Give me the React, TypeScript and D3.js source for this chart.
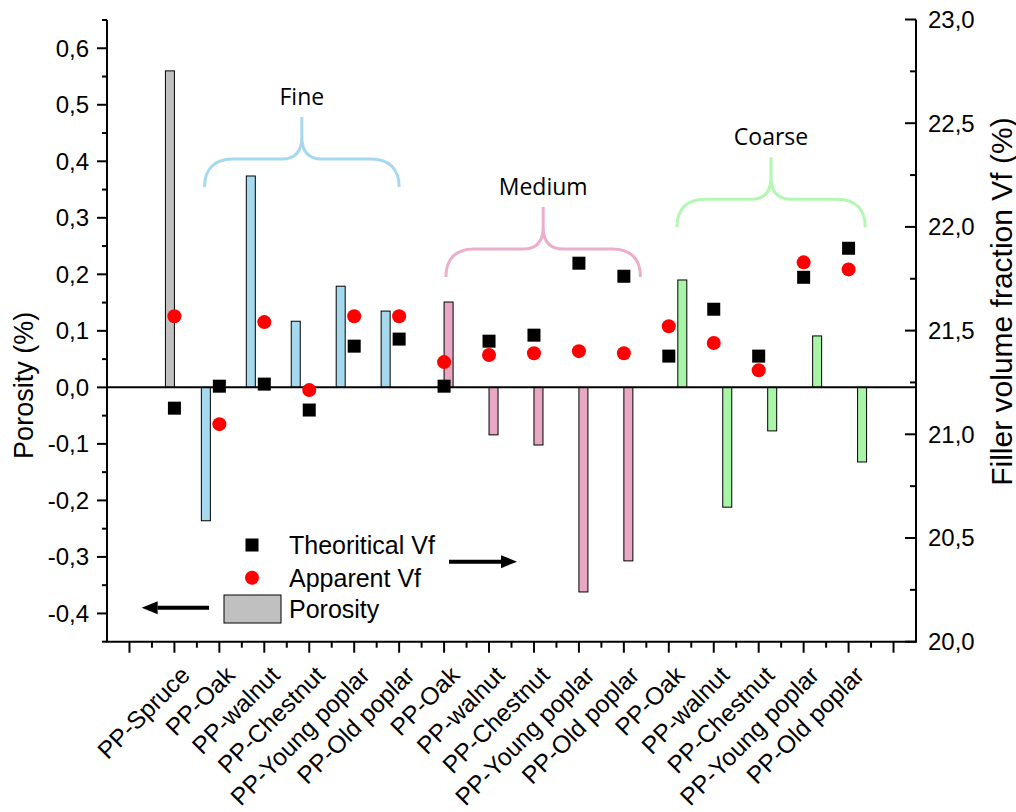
import React from "react";
import * as d3 from "d3";

const categories = [
  "PP-Spruce", "PP-Oak", "PP-walnut", "PP-Chestnut", "PP-Young poplar", "PP-Old poplar",
  "PP-Oak", "PP-walnut", "PP-Chestnut", "PP-Young poplar", "PP-Old poplar",
  "PP-Oak", "PP-walnut", "PP-Chestnut", "PP-Young poplar", "PP-Old poplar",
];
const groups = [
  "Reference", "Fine", "Fine", "Fine", "Fine", "Fine",
  "Medium", "Medium", "Medium", "Medium", "Medium",
  "Coarse", "Coarse", "Coarse", "Coarse", "Coarse",
];
const porosity = [0.56, -0.236, 0.374, 0.117, 0.179, 0.135, 0.151, -0.084, -0.102, -0.362, -0.307, 0.19, -0.212, -0.077, 0.091, -0.132];
const theoreticalVf = [21.126, 21.232, 21.242, 21.117, 21.425, 21.459, 21.232, 21.449, 21.478, 21.825, 21.762, 21.377, 21.603, 21.377, 21.757, 21.897];
const apparentVf = [21.569, 21.049, 21.541, 21.213, 21.569, 21.569, 21.348, 21.382, 21.391, 21.401, 21.391, 21.521, 21.44, 21.309, 21.829, 21.795];

const leftTicks = [-0.4, -0.3, -0.2, -0.1, 0, 0.1, 0.2, 0.3, 0.4, 0.5, 0.6];
const rightTicks = [20, 20.5, 21, 21.5, 22, 22.5, 23];

const braceLabels = ["Fine", "Medium", "Coarse"];
const braceFrom = [1.67, 7.04, 12.18];
const braceTo = [6.0, 11.37, 16.37];
const braceLevel = [0.404, 0.245, 0.333];

const groupOrder = ["Fine", "Reference", "Medium", "Coarse"];
const groupFill: Record<string, string> = {
  Reference: "#c0c0c0",
  Fine: "#a6d8ee",
  Medium: "#e8a8c4",
  Coarse: "#a8f5a8",
};
const braceColor = ["#a6d8ef", "#ecaecb", "#b2f7b2"];

const W = 1016;
const H = 812;
const FONT = "Arial, 'Liberation Sans', sans-serif";

const fmt = (v: number, d: number) => v.toFixed(d).replace(".", ",").replace(/^-0,0$/, "0,0");

export default function App() {
  const x = d3.scaleLinear().domain([-0.5, 17.5]).range([107, 916]);
  const yL = d3.scaleLinear().domain([-0.45, 0.65]).range([641.7, 20]);
  const yR = d3.scaleLinear().domain([20, 23]).range([641.7, 19.5]);
  const sub = d3.scaleBand().domain(groupOrder).range([-18, 18]).padding(0);
  const xOf = (i: number) => x(i + 1);

  const xMajor = d3.range(0, 18);
  const xMinor = d3.range(0.5, 17.5, 1);
  const leftMinor = d3.range(-0.45, 0.651, 0.1).map((v) => Math.round(v * 100) / 100);
  const rightMinor = d3.range(20.25, 23, 0.5);

  const axisColor = "#000";

  const bracePath = (x0: number, x1: number, yh: number) => {
    const xm = (x0 + x1) / 2;
    return (
      `M${x0},${yh + 28} C${x0},${yh + 10} ${x0 + 10},${yh} ${x0 + 28},${yh} L${xm - 20},${yh} ` +
      `C${xm - 6},${yh} ${xm},${yh - 8} ${xm},${yh - 22} L${xm},${yh - 42} ` +
      `M${x1},${yh + 28} C${x1},${yh + 10} ${x1 - 10},${yh} ${x1 - 28},${yh} L${xm + 20},${yh} ` +
      `C${xm + 6},${yh} ${xm},${yh - 8} ${xm},${yh - 22}`
    );
  };

  const arrow = (xTail: number, xTip: number, yy: number) => {
    const dir = xTip > xTail ? 1 : -1;
    const headL = 16;
    return (
      <g>
        <line x1={xTail} y1={yy} x2={xTip - dir * headL} y2={yy} stroke="#000" strokeWidth={4} />
        <path d={`M${xTip},${yy} L${xTip - dir * headL},${yy - 6.5} L${xTip - dir * headL},${yy + 6.5} Z`} fill="#000" />
      </g>
    );
  };

  return (
    <svg width={W} height={H} style={{ position: "absolute", left: 0, top: 0, background: "#fff" }} fontFamily={FONT}>
      <rect x={0} y={0} width={W} height={H} fill="#fff" />

      {/* bars */}
      {porosity.map((v, i) => {
        const cx = xOf(i) + (sub(groups[i]) as number);
        const y0 = yL(0);
        const y1 = yL(v);
        return (
          <rect
            key={"b" + i}
            x={cx}
            y={Math.min(y0, y1)}
            width={sub.bandwidth()}
            height={Math.abs(y1 - y0)}
            fill={groupFill[groups[i]]}
            stroke="#000"
            strokeWidth={1}
          />
        );
      })}

      {/* zero line */}
      <line x1={x(-0.5)} x2={x(17.5)} y1={yL(0)} y2={yL(0)} stroke="#000" strokeWidth={2} />

      {/* markers */}
      {theoreticalVf.map((v, i) => (
        <rect key={"t" + i} x={xOf(i) - 6.5} y={yR(v) - 6.5} width={13} height={13} fill="#000" />
      ))}
      {apparentVf.map((v, i) => (
        <circle key={"a" + i} cx={xOf(i)} cy={yR(v)} r={7} fill="#ff0000" />
      ))}

      {/* braces */}
      {braceLabels.map((lab, k) => {
        const x0 = xOf(braceFrom[k] - 1);
        const x1 = xOf(braceTo[k] - 1);
        const yh = yL(braceLevel[k]);
        return (
          <g key={"br" + k}>
            <path d={bracePath(x0, x1, yh)} fill="none" stroke={braceColor[k]} strokeWidth={3} />
            <text
              x={(x0 + x1) / 2}
              y={yh - 54}
              textAnchor="middle"
              fontFamily="'Open Sans', 'Noto Sans', sans-serif"
              fontSize={23}
              fill="#000"
            >
              {lab}
            </text>
          </g>
        );
      })}

      {/* left axis */}
      <line x1={x(-0.5)} x2={x(-0.5)} y1={yL(0.65)} y2={yL(-0.45)} stroke={axisColor} strokeWidth={2} />
      {leftTicks.map((t) => (
        <g key={"lt" + t}>
          <line x1={x(-0.5) - 10} x2={x(-0.5)} y1={yL(t)} y2={yL(t)} stroke={axisColor} strokeWidth={2} />
          <text x={x(-0.5) - 18} y={yL(t)} dy="0.35em" textAnchor="end" fontSize={24}>
            {fmt(t, 1)}
          </text>
        </g>
      ))}
      {leftMinor.map((t) => (
        <line key={"lm" + t} x1={x(-0.5) - 5} x2={x(-0.5)} y1={yL(t)} y2={yL(t)} stroke={axisColor} strokeWidth={2} />
      ))}
      <text
        transform={`translate(24,${yL(0) - 2}) rotate(-90)`}
        textAnchor="middle"
        dy="0.35em"
        fontSize={27}
      >
        Porosity (%)
      </text>

      {/* right axis */}
      <line x1={x(17.5)} x2={x(17.5)} y1={yR(23)} y2={yR(20)} stroke={axisColor} strokeWidth={2} />
      {rightTicks.map((t) => (
        <g key={"rt" + t}>
          <line x1={x(17.5) - 11} x2={x(17.5)} y1={yR(t)} y2={yR(t)} stroke={axisColor} strokeWidth={2} />
          <text x={x(17.5) + 12} y={yR(t)} dy="0.35em" textAnchor="start" fontSize={24}>
            {fmt(t, 1)}
          </text>
        </g>
      ))}
      {rightMinor.map((t) => (
        <line key={"rm" + t} x1={x(17.5) - 6} x2={x(17.5)} y1={yR(t)} y2={yR(t)} stroke={axisColor} strokeWidth={2} />
      ))}
      <text
        transform={`translate(1001,${yR(21.64)}) rotate(-90)`}
        textAnchor="middle"
        dy="0.35em"
        fontSize={30}
      >
        Filler volume fraction Vf (%)
      </text>

      {/* bottom axis */}
      <line x1={x(-0.5) - 1} x2={x(17.5) + 1} y1={yL(-0.45)} y2={yL(-0.45)} stroke={axisColor} strokeWidth={2} />
      {xMajor.map((t) => (
        <line key={"xm" + t} x1={x(t)} x2={x(t)} y1={yL(-0.45)} y2={yL(-0.45) + 11} stroke={axisColor} strokeWidth={2} />
      ))}
      {xMinor.map((t) => (
        <line key={"xn" + t} x1={x(t)} x2={x(t)} y1={yL(-0.45)} y2={yL(-0.45) + 6} stroke={axisColor} strokeWidth={2} />
      ))}
      {categories.map((c, i) => (
        <text
          key={"xl" + i}
          transform={`translate(${xOf(i) + 17},${yL(-0.45) + 35}) rotate(-45)`}
          textAnchor="end"
          fontSize={24.5}
        >
          {c}
        </text>
      ))}

      {/* legend */}
      <rect x={245.5} y={538.5} width={13} height={13} fill="#000" />
      <text x={289} y={545} dy="0.35em" fontSize={25}>Theoritical Vf</text>
      <circle cx={252} cy={577.7} r={7} fill="#ff0000" />
      <text x={289} y={578} dy="0.35em" fontSize={25}>Apparent Vf</text>
      <rect x={224} y={595} width={57} height={28} fill="#c0c0c0" stroke="#000" strokeWidth={1} />
      <text x={289} y={609} dy="0.35em" fontSize={25}>Porosity</text>
      {arrow(449, 517, 561.7)}
      {arrow(209, 141.7, 607.7)}
    </svg>
  );
}
